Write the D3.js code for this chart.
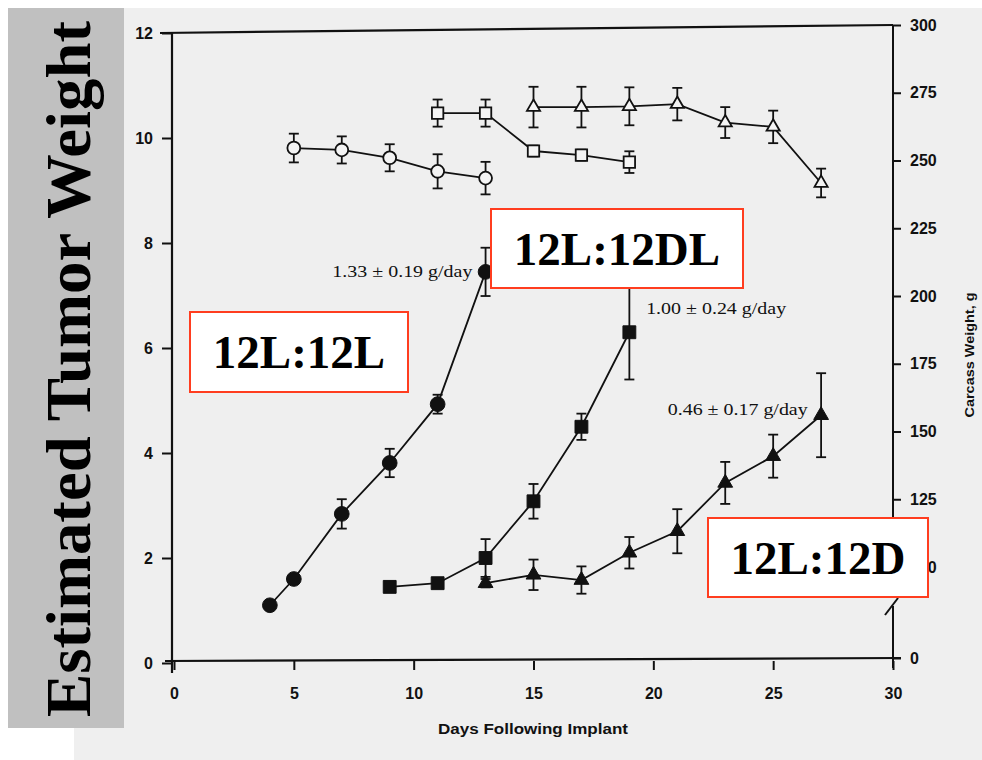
<!DOCTYPE html>
<html>
<head>
<meta charset="utf-8">
<script src="https://cdn.jsdelivr.net/npm/d3@7/dist/d3.min.js"></script>
<style>
  html, body { margin: 0; padding: 0; background: #ffffff; }
  svg { display: block; }
</style>
</head>
<body>
<svg id="chart" width="982" height="760"></svg>
<script>
// ---------------- DATA ----------------
// Tumor weight (left axis, g)
const daysL = [4, 5, 7, 9, 11, 13];
const tumorL = [1.1, 1.6, 2.84, 3.81, 4.93, 7.45];
const tumorErrL = [0.05, 0.05, 0.28, 0.27, 0.18, 0.46];

const daysDL = [9, 11, 13, 15, 17, 19];
const tumorDL = [1.45, 1.52, 2.0, 3.08, 4.5, 6.3];
const tumorErrDL = [0.05, 0.05, 0.36, 0.33, 0.25, 0.9];

const daysD = [13, 15, 17, 19, 21, 23, 25, 27];
const tumorD = [1.52, 1.68, 1.58, 2.1, 2.51, 3.43, 3.94, 4.72];
const tumorErrD = [0.08, 0.29, 0.26, 0.3, 0.42, 0.4, 0.41, 0.8];

// Carcass weight (right axis, g)
const carcDaysL = [5, 7, 9, 11, 13];
const carcL = [254.6, 253.9, 251, 246, 243.5];
const carcErrL = [5.3, 5, 5, 6.3, 6];

const carcDaysDL = [11, 13, 15, 17, 19];
const carcDL = [267.5, 267.5, 253.5, 252, 249.4];
const carcErrDL = [5, 5, 2, 2, 4];

const carcDaysD = [15, 17, 19, 21, 23, 25, 27];
const carcD = [269.7, 269.7, 270, 270.8, 264, 262.4, 241.7];
const carcErrD = [7.5, 7.5, 7, 6, 5.7, 6, 5.3];

// Tick labels
const xTicks = [0, 5, 10, 15, 20, 25, 30];
const yLeftTicks = [0, 2, 4, 6, 8, 10, 12];
const yRightTicks = [0, 100, 125, 150, 175, 200, 225, 250, 275, 300];

// Texts
const titleText = "Estimated Tumor Weight";
const xTitle = "Days Following Implant";
const yRightTitle = "Carcass Weight, g";
const rateL = "1.33 \u00B1 0.19 g/day";
const rateDL = "1.00 \u00B1 0.24 g/day";
const rateD = "0.46 \u00B1 0.17 g/day";
const groupNames = ["12L:12L", "12L:12DL", "12L:12D"];

// ---------------- DRAW ----------------
const svg = d3.select("#chart");
const ink = "#111";
const sansTick = "'Liberation Sans', Arial, sans-serif";
const serif = "'Liberation Serif', 'Times New Roman', serif";

// scanned page background
svg.append("rect").attr("x", 74).attr("y", 8).attr("width", 908).attr("height", 752).attr("fill", "#efefef");
// grey title panel
svg.append("rect").attr("x", 8).attr("y", 8).attr("width", 116).attr("height", 720).attr("fill", "#c0c0c0");

svg.append("text")
  .attr("transform", "translate(89.5,369) rotate(-90)")
  .attr("text-anchor", "middle")
  .attr("font-family", serif)
  .attr("font-weight", "bold")
  .attr("font-size", 64)
  .attr("textLength", 696)
  .attr("lengthAdjust", "spacingAndGlyphs")
  .attr("fill", "#000")
  .text(titleText);

const x = d3.scaleLinear().domain([0, 30]).range([174, 893]);
const y = d3.scaleLinear().domain([0, 12]).range([663, 33]);
const y2 = d3.scaleLinear().domain([0, 100, 300]).range([658, 567, 25]);

// frame lines
const g = svg.append("g");
g.append("line").attr("x1", 172).attr("y1", 673).attr("x2", 172).attr("y2", y(12))
  .attr("stroke", ink).attr("stroke-width", 2.2);
g.append("line").attr("x1", 165).attr("y1", 661).attr("x2", 901).attr("y2", 658)
  .attr("stroke", ink).attr("stroke-width", 2.2);
g.append("line").attr("x1", 160).attr("y1", y(12)).attr("x2", 893).attr("y2", y2(300))
  .attr("stroke", ink).attr("stroke-width", 2.2);
// right axis with break
g.append("line").attr("x1", 893).attr("y1", y2(300)).attr("x2", 893).attr("y2", 585)
  .attr("stroke", ink).attr("stroke-width", 2);
g.append("line").attr("x1", 893).attr("y1", 668).attr("x2", 893).attr("y2", 606)
  .attr("stroke", ink).attr("stroke-width", 2);
g.append("line").attr("x1", 885).attr("y1", 615).attr("x2", 898).attr("y2", 598)
  .attr("stroke", ink).attr("stroke-width", 2);

// axes
function styleAxis(sel) {
  sel.select(".domain").remove();
  sel.selectAll(".tick line").attr("stroke", ink).attr("stroke-width", 2);
  sel.selectAll(".tick text").attr("fill", ink).attr("font-family", sansTick)
    .attr("font-weight", "bold").attr("font-size", 16);
}
svg.append("g").attr("transform", "translate(172,0)")
  .call(d3.axisLeft(y).tickValues(yLeftTicks).tickSize(10).tickPadding(9).tickFormat(d3.format("d")))
  .call(styleAxis);
svg.append("g").attr("transform", "translate(0,661)")
  .call(d3.axisBottom(x).tickValues(xTicks).tickSize(9).tickPadding(18).tickFormat(d3.format("d")))
  .call(styleAxis);
svg.append("g").attr("transform", "translate(893,0)")
  .call(d3.axisRight(y2).tickValues(yRightTicks).tickSize(8).tickPadding(9).tickFormat(d3.format("d")))
  .call(styleAxis);

// axis titles
svg.append("text").attr("x", 533).attr("y", 734).attr("text-anchor", "middle")
  .attr("font-family", sansTick).attr("font-weight", "bold").attr("font-size", 14)
  .attr("textLength", 190).attr("lengthAdjust", "spacingAndGlyphs")
  .attr("fill", ink).text(xTitle);
svg.append("text").attr("transform", "translate(974,355) rotate(-90)").attr("text-anchor", "middle")
  .attr("font-family", sansTick).attr("font-weight", "bold").attr("font-size", 13)
  .attr("textLength", 125).attr("lengthAdjust", "spacingAndGlyphs")
  .attr("fill", ink).text(yRightTitle);

// ---------- series ----------
const line = d3.line();
function drawSeries(days, vals, errs, ys, shape, filled, size) {
  const pts = days.map((d, i) => [x(d), ys(vals[i])]);
  const gs = svg.append("g");
  gs.append("path").attr("d", line(pts)).attr("fill", "none")
    .attr("stroke", ink).attr("stroke-width", 1.8);
  // error bars
  days.forEach((d, i) => {
    const cx = x(d), top = ys(vals[i] + errs[i]), bot = ys(vals[i] - errs[i]);
    gs.append("line").attr("x1", cx).attr("x2", cx).attr("y1", top).attr("y2", bot)
      .attr("stroke", ink).attr("stroke-width", 1.8);
    [top, bot].forEach(yy => gs.append("line").attr("x1", cx - 5).attr("x2", cx + 5)
      .attr("y1", yy).attr("y2", yy).attr("stroke", ink).attr("stroke-width", 1.8));
  });
  const sym = d3.symbol().type(shape).size(size);
  gs.selectAll("path.pt").data(pts).join("path").attr("class", "pt")
    .attr("transform", p => `translate(${p[0]},${p[1]})`)
    .attr("d", sym)
    .attr("fill", filled ? ink : "#f4f4f4")
    .attr("stroke", ink).attr("stroke-width", filled ? 1 : 1.8);
}

drawSeries(carcDaysL, carcL, carcErrL, y2, d3.symbolCircle, false, 130);
drawSeries(carcDaysDL, carcDL, carcErrDL, y2, d3.symbolSquare, false, 130);
drawSeries(carcDaysD, carcD, carcErrD, y2, d3.symbolTriangle, false, 75);

drawSeries(daysL, tumorL, tumorErrL, y, d3.symbolCircle, true, 170);
drawSeries(daysDL, tumorDL, tumorErrDL, y, d3.symbolSquare, true, 165);
drawSeries(daysD, tumorD, tumorErrD, y, d3.symbolTriangle, true, 95);

// rate annotations
function rate(txt, xx, yy, anchor) {
  svg.append("text").attr("x", xx).attr("y", yy).attr("text-anchor", anchor)
    .attr("font-family", serif).attr("font-size", 17)
    .attr("textLength", 140).attr("lengthAdjust", "spacingAndGlyphs")
    .attr("fill", ink).text(txt);
}
rate(rateL, x(12.45), y(7.45) + 5, "end");
rate(rateDL, x(19.7), y(6.74) + 5, "start");
rate(rateD, x(20.6), y(4.82) + 5, "start");

// group label boxes
const boxes = [
  { name: groupNames[0], bx: 190, by: 312, bw: 218, bh: 80 },
  { name: groupNames[1], bx: 491, by: 209, bw: 252, bh: 79 },
  { name: groupNames[2], bx: 708, by: 518, bw: 220, bh: 79 }
];
boxes.forEach(b => {
  svg.append("rect").attr("x", b.bx).attr("y", b.by).attr("width", b.bw).attr("height", b.bh)
    .attr("fill", "#ffffff").attr("stroke", "#ff3d1f").attr("stroke-width", 2);
  svg.append("text").attr("x", b.bx + b.bw / 2).attr("y", b.by + b.bh / 2 + 16)
    .attr("text-anchor", "middle").attr("font-family", serif).attr("font-weight", "bold")
    .attr("font-size", 47).attr("fill", "#000").text(b.name);
});
</script>
</body>
</html>
